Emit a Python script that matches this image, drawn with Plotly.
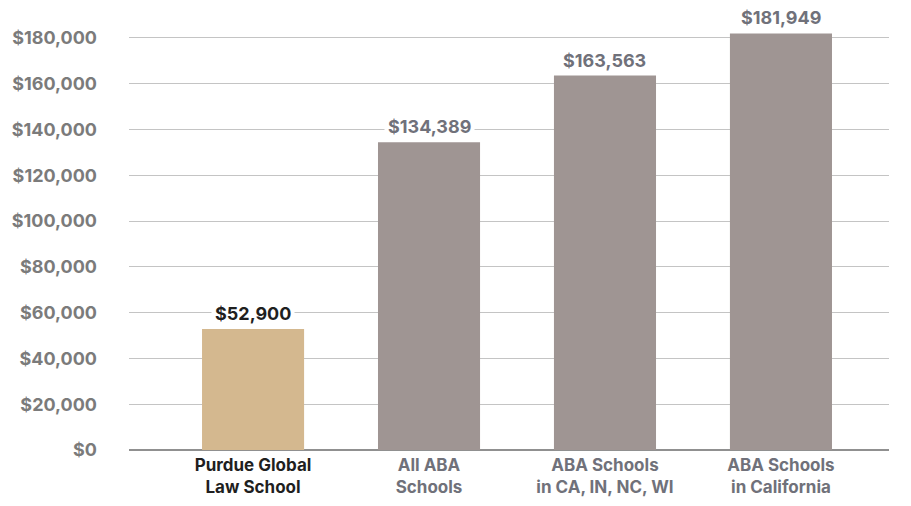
import plotly.graph_objects as go

categories = ["Purdue Global<br>Law School", "All ABA<br>Schools",
              "ABA Schools<br>in CA, IN, NC, WI", "ABA Schools<br>in California"]
values = [52900, 134389, 163563, 181949]
bar_colors = ["#D4B88F", "#9F9593", "#9F9593", "#9F9593"]
label_colors = ["#1f1f1f", "#70717a", "#70717a", "#70717a"]
tick_vals = [0, 20000, 40000, 60000, 80000, 100000, 120000, 140000, 160000, 180000]
tick_text = ["$0", "$20,000", "$40,000", "$60,000", "$80,000", "$100,000",
             "$120,000", "$140,000", "$160,000", "$180,000"]

FONT = "Inter, Liberation Sans, Arial, sans-serif"

fig = go.Figure(go.Bar(
    x=list(range(len(categories))), y=values,
    marker=dict(color=bar_colors, line=dict(width=0)),
    width=0.58, hoverinfo="skip",
))

for i, v in enumerate(values):
    fig.add_annotation(
        x=i, y=v, xref="x", yref="y", text=f"<b>${v:,}</b>",
        showarrow=False, yanchor="bottom", yshift=1,
        font=dict(family=FONT, size=18, color=label_colors[i]),
        bgcolor="white", borderpad=3,
    )

fig.update_layout(
    width=911, height=506,
    margin=dict(l=129, r=22, t=10, b=56),
    paper_bgcolor="white", plot_bgcolor="white",
    showlegend=False,
    font=dict(family=FONT),
    xaxis=dict(
        range=[-0.705, 3.614],
        tickmode="array", tickvals=list(range(len(categories))),
        ticktext=[f"<b><span style='color:{c}'>{t}</span></b>" for t, c in zip(categories, label_colors)],
        tickfont=dict(family=FONT, size=17, color="#70717a"),
        showgrid=False, zeroline=False, showline=False, ticks="",
        ticklabelstandoff=3, automargin=False,
    ),
    yaxis=dict(
        range=[0, 192200],
        tickmode="array", tickvals=tick_vals,
        ticktext=[f"<b>{t}</b>" for t in tick_text],
        tickfont=dict(family=FONT, size=18, color="#7b7b7b"),
        showgrid=True, gridcolor="#c4c4c4", gridwidth=1,
        zeroline=True, zerolinecolor="#909090", zerolinewidth=1.5,
        showline=False, ticks="", ticklabelstandoff=31, automargin=False,
    ),
)

fig.write_html("out.html")
